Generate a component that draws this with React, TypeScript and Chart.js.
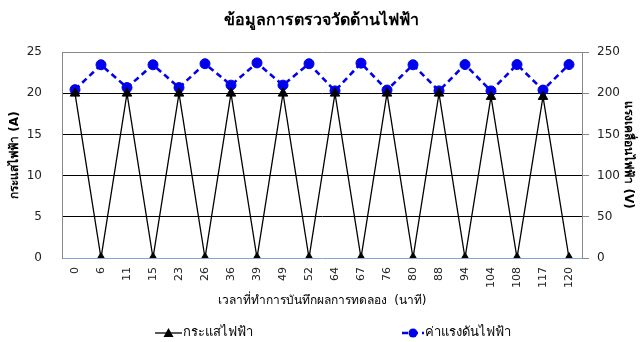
import React, { useEffect, useRef } from "react";
import { Chart, registerables } from "chart.js";

Chart.register(...registerables);

// Measurement times (minutes)
const times = ["0", "6", "11", "15", "23", "26", "36", "39", "49", "52", "64", "67", "76", "80", "88", "94", "104", "108", "117", "120"];
// Current (A)
const current = [20, 0, 20, 0, 20, 0, 20, 0, 20, 0, 20, 0, 20, 0, 20, 0, 19.6, 0, 19.6, 0];
// Voltage (V)
const voltage = [204.5, 234.7, 207, 234.7, 207, 236, 210, 237, 210, 236, 203, 236.7, 204, 234.7, 203, 235, 203, 235, 204, 235];

const currentTicks = [0, 5, 10, 15, 20, 25];
const voltageTicks = [0, 50, 100, 150, 200, 250];

const TITLE = "ข้อมูลการตรวจวัดด้านไฟฟ้า";
const X_TITLE = "เวลาที่ทำการบันทึกผลการทดลอง  (นาที)";
const Y_TITLE = "กระแสไฟฟ้า (A)";
const Y1_TITLE = "แรงเคลื่อนไฟฟ้า (V)";
const SERIES = ["กระแสไฟฟ้า", "ค่าแรงดันไฟฟ้า"];

const FONT = "Tahoma, 'DejaVu Sans', 'Noto Sans', sans-serif";
const BLUE = "#0000ee";

// Legend with a short line segment and the series marker in the middle
const lineLegend = {
  id: "lineLegend",
  afterDraw(chart: any) {
    const ctx = chart.ctx;
    const y = 333;
    ctx.save();
    ctx.font = `13px ${FONT}`;
    ctx.textBaseline = "middle";
    ctx.fillStyle = "#000";
    const starts = [155, 402];
    const lengths = [27, 22];
    chart.data.datasets.forEach((ds: any, i: number) => {
      const x0 = starts[i];
      const x1 = x0 + lengths[i];
      ctx.save();
      ctx.strokeStyle = ds.borderColor;
      ctx.lineWidth = ds.borderWidth;
      ctx.setLineDash(ds.borderDash || []);
      ctx.beginPath();
      ctx.moveTo(x0, y);
      ctx.lineTo(x1, y);
      ctx.stroke();
      ctx.restore();
      ctx.save();
      ctx.fillStyle = ds.pointBackgroundColor;
      ctx.strokeStyle = ds.pointBorderColor;
      ctx.beginPath();
      const cx = (x0 + x1) / 2;
      if (ds.pointStyle === "triangle") {
        ctx.moveTo(cx, y - 5);
        ctx.lineTo(cx + 5, y + 4);
        ctx.lineTo(cx - 5, y + 4);
        ctx.closePath();
      } else {
        ctx.arc(cx, y, 4.5, 0, Math.PI * 2);
      }
      ctx.fill();
      ctx.restore();
      ctx.fillText(SERIES[i], x1 + 1, y);
    });
    ctx.restore();
  },
};

export default function App() {
  const canvasRef = useRef<HTMLCanvasElement | null>(null);

  useEffect(() => {
    if (!canvasRef.current) return;
    const chart = new Chart(canvasRef.current, {
      type: "line",
      data: {
        labels: times,
        datasets: [
          {
            label: SERIES[0],
            data: current,
            yAxisID: "y",
            borderColor: "#000",
            borderWidth: 1.3,
            pointStyle: "triangle",
            pointRadius: 5.5,
            pointBackgroundColor: "#000",
            pointBorderColor: "#000",
            pointBorderWidth: 1,
            tension: 0,
          },
          {
            label: SERIES[1],
            data: voltage,
            yAxisID: "y1",
            borderColor: BLUE,
            borderWidth: 2.6,
            borderDash: [6, 4],
            pointStyle: "circle",
            pointRadius: 5,
            pointBackgroundColor: BLUE,
            pointBorderColor: BLUE,
            pointBorderWidth: 1,
            tension: 0,
          },
        ],
      },
      options: {
        animation: false,
        responsive: true,
        maintainAspectRatio: false,
        layout: { padding: { left: 0, right: 0, top: 0, bottom: 30 } },
        plugins: {
          legend: { display: false },
          tooltip: { enabled: false },
          title: {
            display: true,
            text: TITLE,
            color: "#000",
            font: { family: FONT, size: 16, weight: "bold" },
            padding: { top: 11, bottom: 22 },
          },
        },
        scales: {
          x: {
            type: "category",
            offset: true,
            afterFit: (s: any) => {
              s.height = 54;
            },
            grid: { display: false, drawTicks: false },
            border: { display: true, color: "#7fa7d4", width: 1 },
            ticks: {
              color: "#222",
              font: { family: FONT, size: 11 },
              minRotation: 90,
              maxRotation: 90,
              autoSkip: false,
              padding: 9,
            },
            title: {
              display: true,
              text: X_TITLE,
              color: "#000",
              font: { family: FONT, size: 12 },
              padding: { top: 0, bottom: 4 },
            },
          },
          y: {
            position: "left",
            min: 0,
            max: 25,
            afterFit: (s: any) => {
              s.width = 62;
            },
            afterBuildTicks: (s: any) => {
              s.ticks = currentTicks.map((v) => ({ value: v }));
            },
            grid: {
              drawTicks: false,
              color: (c: any) => (c.tick && c.tick.value === 0 ? "rgba(0,0,0,0)" : c.tick && c.tick.value === 25 ? "#888" : "#000"),
              lineWidth: 1,
            },
            border: { display: true, color: "#888", width: 1 },
            ticks: {
              color: "#222",
              font: { family: FONT, size: 12 },
              padding: 20,
            },
            title: {
              display: true,
              text: Y_TITLE,
              color: "#000",
              font: { family: FONT, size: 12, weight: "bold" },
              padding: { top: 8, bottom: 0 },
            },
          },
          y1: {
            position: "right",
            min: 0,
            max: 250,
            afterFit: (s: any) => {
              s.width = 61;
            },
            afterBuildTicks: (s: any) => {
              s.ticks = voltageTicks.map((v) => ({ value: v }));
            },
            grid: {
              drawOnChartArea: false,
              drawTicks: true,
              tickLength: 7,
              color: "#888",
              lineWidth: 1,
            },
            border: { display: true, color: "#888", width: 1 },
            ticks: {
              color: "#222",
              font: { family: FONT, size: 12 },
              padding: 8,
            },
            title: {
              display: true,
              text: Y1_TITLE,
              color: "#000",
              font: { family: FONT, size: 12, weight: "bold" },
              padding: { top: 8, bottom: 0 },
            },
          },
        },
      },
      plugins: [lineLegend],
    });
    return () => chart.destroy();
  }, []);

  return (
    <div style={{ position: "fixed", left: 0, top: 0, width: 643, height: 342, background: "#fff" }}>
      <canvas ref={canvasRef} />
    </div>
  );
}
